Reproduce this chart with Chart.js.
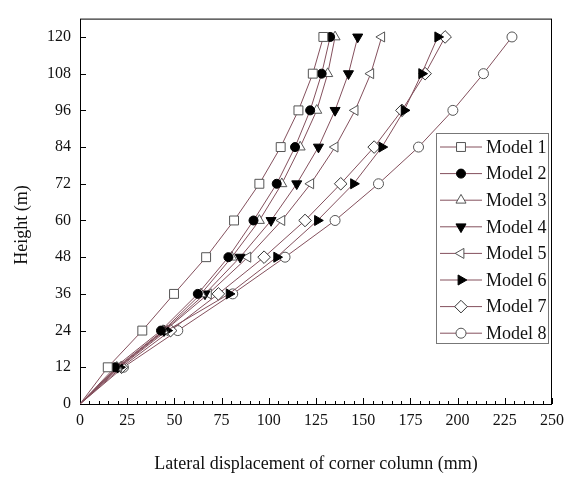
<!DOCTYPE html>
<html>
<head>
<meta charset="utf-8">
<script src="https://cdn.jsdelivr.net/npm/chart.js@4.4.1/dist/chart.umd.min.js"></script>
<style>
  body { margin: 0; background: #fff; }
  canvas { display: block; }
</style>
</head>
<body>
<canvas id="myChart" width="574" height="479"></canvas>
<script>
// storey heights (m) and corner column displacement (mm) per model
const heights = [0, 12, 24, 36, 48, 60, 72, 84, 96, 108, 120];
const model1 = [0, 14.7, 33.0, 49.8, 66.8, 81.6, 95.0, 106.3, 115.7, 123.3, 128.9];
const model2 = [0, 18.5, 42.9, 62.4, 78.6, 91.9, 104.2, 113.9, 121.9, 128.0, 132.5];
const model3 = [0, 19.5, 44.0, 64.1, 80.4, 95.0, 106.9, 116.6, 125.4, 131.2, 135.1];
const model4 = [0, 20.0, 44.5, 66.2, 84.8, 101.2, 114.8, 126.3, 135.1, 142.2, 147.1];
const model5 = [0, 20.5, 45.0, 68.0, 88.9, 106.9, 122.2, 135.1, 145.7, 154.0, 159.8];
const model6 = [0, 21.0, 46.0, 79.0, 104.2, 125.8, 144.9, 159.9, 171.7, 181.0, 189.5];
const model7 = [0, 22.0, 48.0, 73.3, 97.5, 119.2, 138.1, 155.8, 170.5, 182.8, 193.4];
const model8 = [0, 23.0, 51.8, 80.9, 108.6, 135.1, 158.1, 179.3, 197.5, 213.7, 228.8];

const modelNames = ['Model 1', 'Model 2', 'Model 3', 'Model 4', 'Model 5', 'Model 6', 'Model 7', 'Model 8'];
const xTicks = [0, 25, 50, 75, 100, 125, 150, 175, 200, 225, 250];
const yTicks = [0, 12, 24, 36, 48, 60, 72, 84, 96, 108, 120];

const serif = "'Liberation Serif', 'DejaVu Serif', serif";
const lineColor = '#84505d';
const openEdge = '#555';

// marker style per model
const markers = [
    { style: 'rect', rot: 0, fill: '#fff', edge: openEdge, r: 6.3 },
    { style: 'circle', rot: 0, fill: '#000', edge: '#000', r: 4.5 },
    { style: 'triangle', rot: 0, fill: '#fff', edge: openEdge, r: 5.8 },
    { style: 'triangle', rot: 180, fill: '#000', edge: '#000', r: 5.8 },
    { style: 'triangle', rot: 270, fill: '#fff', edge: openEdge, r: 5.8 },
    { style: 'triangle', rot: 90, fill: '#000', edge: '#000', r: 5.8 },
    { style: 'rectRot', rot: 0, fill: '#fff', edge: '#333', r: 6.3 },
    { style: 'circle', rot: 0, fill: '#fff', edge: openEdge, r: 5 }
];

const series = [model1, model2, model3, model4, model5, model6, model7, model8];

const datasets = series.map((vals, i) => ({
    label: modelNames[i],
    data: vals.map((v, k) => ({ x: v, y: heights[k] })),
    borderColor: lineColor,
    borderWidth: 1,
    pointStyle: markers[i].style,
    rotation: markers[i].rot,
    pointRadius: vals.map((v, k) => k === 0 ? 0 : markers[i].r),
    pointBackgroundColor: markers[i].fill,
    pointBorderColor: markers[i].edge,
    pointBorderWidth: 1,
    tension: 0
}));

// frame, inward tick marks and the vertical axis title
const framePlugin = {
    id: 'frame',
    beforeDatasetsDraw(chart) {
        const { ctx, chartArea: a, scales } = chart;
        ctx.save();
        ctx.strokeStyle = '#000';
        ctx.lineWidth = 1;
        ctx.strokeRect(a.left + 0.5, a.top + 0.5, a.right - a.left - 1, a.bottom - a.top);
        ctx.beginPath();
        for (let v = 0; v <= 250; v += 5) {
            const px = Math.round(scales.x.getPixelForValue(v)) + 0.5;
            const len = v % 25 === 0 ? 6 : 3;
            ctx.moveTo(px, a.bottom);
            ctx.lineTo(px, a.bottom - len);
        }
        yTicks.forEach(v => {
            const py = Math.round(scales.y.getPixelForValue(v)) + 0.5;
            ctx.moveTo(a.left, py);
            ctx.lineTo(a.left + 6, py);
        });
        ctx.stroke();

        ctx.translate(22, 225);
        ctx.rotate(-Math.PI / 2);
        ctx.fillStyle = '#111';
        ctx.font = '18px ' + serif;
        ctx.textAlign = 'center';
        ctx.textBaseline = 'middle';
        ctx.fillText('Height (m)', 0, 0);
        ctx.restore();
    }
};

// boxed legend inside the plot, using each dataset's marker
const legendPlugin = {
    id: 'boxLegend',
    afterDraw(chart) {
        const { ctx } = chart;
        const box = { x: 436.5, y: 133.5, w: 112, h: 210 };
        ctx.save();
        ctx.fillStyle = '#fff';
        ctx.fillRect(box.x, box.y, box.w, box.h);
        ctx.strokeStyle = '#777';
        ctx.lineWidth = 1;
        ctx.strokeRect(box.x, box.y, box.w, box.h);
        chart.data.datasets.forEach((ds, i) => {
            const y = 147 + i * 26.6;
            ctx.strokeStyle = lineColor;
            ctx.beginPath();
            ctx.moveTo(440, y);
            ctx.lineTo(482, y);
            ctx.stroke();
            ctx.fillStyle = markers[i].fill;
            ctx.strokeStyle = markers[i].edge;
            ctx.lineWidth = 1;
            Chart.helpers.drawPoint(ctx, {
                pointStyle: markers[i].style,
                rotation: markers[i].rot,
                radius: markers[i].r,
                borderWidth: 1
            }, 461, y);
            ctx.fillStyle = '#111';
            ctx.font = '18px ' + serif;
            ctx.textBaseline = 'middle';
            ctx.textAlign = 'left';
            ctx.fillText(ds.label, 486, y + 1);
        });
        ctx.restore();
    }
};

const ctx = document.getElementById('myChart').getContext('2d');
new Chart(ctx, {
    type: 'line',
    data: { datasets: datasets },
    options: {
        responsive: false,
        animation: false,
        layout: { padding: { top: 18, right: 22, left: 0, bottom: 0 } },
        plugins: {
            legend: { display: false },
            tooltip: { enabled: false }
        },
        scales: {
            x: {
                type: 'linear',
                min: 0,
                max: 250,
                afterBuildTicks: s => { s.ticks = xTicks.map(v => ({ value: v })); },
                afterFit: s => { s.height = 75; },
                grid: { display: false, drawTicks: false },
                border: { display: false },
                ticks: { color: '#111', padding: 7, maxRotation: 0, font: { family: serif, size: 16 } },
                title: {
                    display: true,
                    text: 'Lateral displacement of corner column (mm)',
                    color: '#111',
                    padding: { top: 12 },
                    font: { family: serif, size: 18 }
                }
            },
            y: {
                type: 'linear',
                min: 0,
                max: 126,
                afterBuildTicks: s => { s.ticks = yTicks.map(v => ({ value: v })); },
                afterFit: s => { s.width = 80; },
                grid: { display: false, drawTicks: false },
                border: { display: false },
                ticks: { color: '#111', padding: 9, font: { family: serif, size: 16 } }
            }
        }
    },
    plugins: [framePlugin, legendPlugin]
});
</script>
</body>
</html>
